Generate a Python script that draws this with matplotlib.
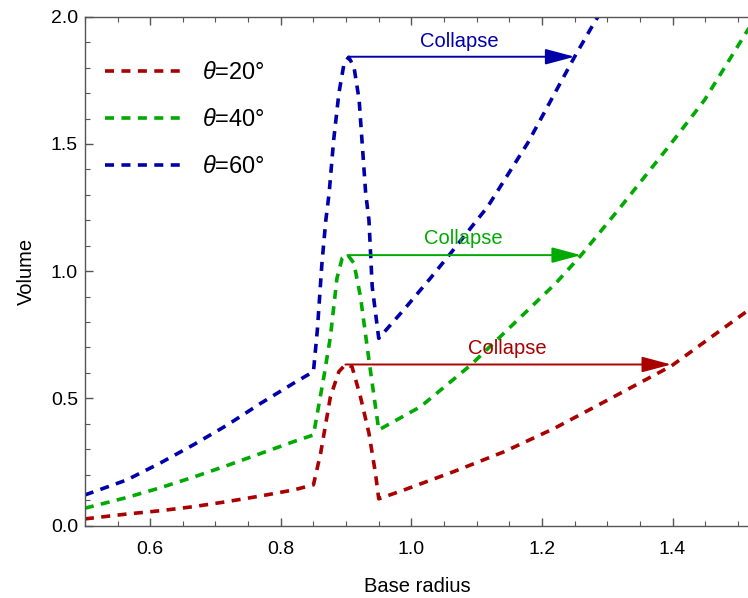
import matplotlib
matplotlib.use("Agg")
import matplotlib.pyplot as plt
from matplotlib.lines import Line2D
from matplotlib.ticker import MultipleLocator, FixedLocator, FormatStrFormatter

plt.rcParams['font.family'] = ['Liberation Sans', 'DejaVu Sans']
plt.rcParams['mathtext.fontset'] = 'custom'
plt.rcParams['mathtext.it'] = 'Liberation Sans:italic'
plt.rcParams['mathtext.rm'] = 'Liberation Sans'

# ---- data ----
red_x = [0.5, 0.564, 0.615, 0.666, 0.718, 0.769, 0.820, 0.850, 0.861, 0.876, 0.889, 0.899,
         0.909, 0.922, 0.935, 0.945, 0.950, 0.989, 1.065, 1.142, 1.219, 1.296, 1.398, 1.518]
red_y = [0.026, 0.045, 0.058, 0.074, 0.094, 0.116, 0.140, 0.160, 0.284, 0.506, 0.605, 0.633,
         0.625, 0.506, 0.363, 0.205, 0.105, 0.140, 0.212, 0.290, 0.382, 0.487, 0.627, 0.850]

green_x = [0.5, 0.564, 0.615, 0.666, 0.718, 0.769, 0.820, 0.850, 0.866, 0.876, 0.886, 0.894,
           0.902, 0.912, 0.922, 0.935, 0.945, 0.950, 1.014, 1.091, 1.168, 1.221, 1.260, 1.321,
           1.398, 1.449, 1.518]
green_y = [0.068, 0.110, 0.148, 0.190, 0.236, 0.283, 0.330, 0.356, 0.585, 0.742, 0.972, 1.051,
           1.066, 1.031, 0.900, 0.651, 0.467, 0.376, 0.467, 0.631, 0.821, 0.952, 1.063, 1.254,
           1.503, 1.673, 1.960]

blue_x = [0.5, 0.564, 0.615, 0.666, 0.718, 0.769, 0.820, 0.850, 0.856, 0.863, 0.869, 0.874,
          0.881, 0.889, 0.897, 0.904, 0.912, 0.920, 0.930, 0.935, 0.940, 0.950, 0.989, 1.030,
          1.060, 1.117, 1.178, 1.250, 1.278, 1.300]
blue_y = [0.120, 0.179, 0.245, 0.317, 0.395, 0.480, 0.560, 0.605, 0.769, 1.031, 1.201, 1.306,
          1.516, 1.700, 1.818, 1.841, 1.804, 1.673, 1.306, 1.201, 0.939, 0.736, 0.850, 0.975,
          1.070, 1.254, 1.503, 1.843, 1.968, 2.060]

labels = [r'$\theta$=20°', r'$\theta$=40°', r'$\theta$=60°']
colors = ['#AA0000', '#00AA00', '#0000AA']

# collapse arrows: (start x, end x, level), label position
arrow_start = [0.899, 0.902, 0.904]
arrow_end = [1.398, 1.260, 1.250]
arrow_level = [0.633, 1.063, 1.843]
label_x = [1.147, 1.080, 1.073]
label_y = [0.694, 1.129, 1.902]
label_text = 'Collapse'

xticks = [0.6, 0.8, 1.0, 1.2, 1.4]
yticks = [0.0, 0.5, 1.0, 1.5, 2.0]

# ---- figure ----
fig = plt.figure(figsize=(7.48, 5.98), dpi=100)
ax = fig.add_axes([84.9 / 748, 72.5 / 598, 1 - 84.9 / 748 + 0.002, (525.5 - 16.8) / 598])

series = [(red_x, red_y), (green_x, green_y), (blue_x, blue_y)]
LW = 2.6
ls = (0, (2.5, 2.05))
for (xs, ys), c in zip(series, colors):
    ax.plot(xs, ys, color=c, lw=LW, linestyle=ls, dash_capstyle='butt', clip_on=True)

for i in range(3):
    ax.annotate('', xy=(arrow_end[i], arrow_level[i]), xytext=(arrow_start[i], arrow_level[i]),
                arrowprops=dict(arrowstyle='-|>,head_length=0.9,head_width=0.24',
                                mutation_scale=20, color=colors[i], lw=1.4,
                                shrinkA=0, shrinkB=0))
    ax.text(label_x[i], label_y[i], label_text, color=colors[i], fontsize=14.5,
            ha='center', va='center')

ax.set_xlim(0.5, 0.5 + 663.1 / 651.5)
ax.set_ylim(0.0, 2.0)

ax.xaxis.set_major_locator(FixedLocator(xticks))
ax.xaxis.set_minor_locator(MultipleLocator(0.05))
ax.yaxis.set_major_locator(FixedLocator(yticks))
ax.yaxis.set_minor_locator(MultipleLocator(0.1))
ax.xaxis.set_major_formatter(FormatStrFormatter('%.1f'))
ax.yaxis.set_major_formatter(FormatStrFormatter('%.1f'))

ax.tick_params(which='both', direction='in', top=True, right=False, color='#555555')
ax.tick_params(which='major', length=6, width=1, labelsize=14)
ax.tick_params(which='minor', length=3.5, width=0.8)
ax.tick_params(axis='x', which='major', pad=11)
ax.tick_params(axis='y', which='major', pad=5)

for s in ['left', 'bottom', 'top']:
    ax.spines[s].set_color('#555555')
    ax.spines[s].set_linewidth(1.0)
ax.spines['right'].set_visible(False)

ax.set_xlabel('Base radius', fontsize=14.5, labelpad=14)
ax.set_ylabel('Volume', fontsize=14.5, labelpad=11)

handles = [Line2D([], [], color=c, lw=LW, linestyle=ls, dash_capstyle='butt') for c in colors]
ax.legend(handles, labels, loc='upper left', bbox_to_anchor=(105 / 748, 1 - 62 / 598),
          bbox_transform=fig.transFigure, frameon=False, fontsize=17,
          handlelength=3.25, handletextpad=0.85, labelspacing=1.06,
          borderpad=0, borderaxespad=0)

fig.savefig('out.png', dpi=100)
